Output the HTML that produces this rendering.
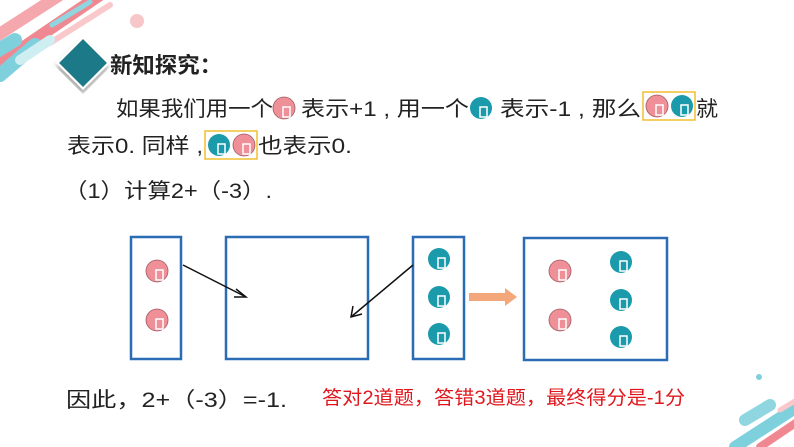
<!DOCTYPE html>
<html><head><meta charset="utf-8"><style>
html,body{margin:0;padding:0;background:#fff;}
svg{display:block;font-family:"Liberation Sans","Noto Sans CJK SC",sans-serif;}
</style></head><body>
<svg width="794" height="447" viewBox="0 0 794 447" xmlns="http://www.w3.org/2000/svg">
<defs>
<symbol id="p" viewBox="-12 -12 24 24"><circle r="11" fill="#ef8f98" stroke="#a05a60" stroke-width="0.8"/><rect x="-1" y="-1" width="7" height="10" fill="none" stroke="#fff" stroke-width="1.5"/></symbol>
<symbol id="t" viewBox="-12 -12 24 24"><circle r="11" fill="#1a9aaa"/><rect x="-1" y="-1" width="7" height="10" fill="none" stroke="#fff" stroke-width="1.5"/></symbol>
<filter id="sh"><feDropShadow dx="3" dy="4" stdDeviation="3" flood-opacity="0.35"/></filter>
</defs>
<g stroke-linecap="round">
<line x1="-10" y1="40" x2="60" y2="-5" stroke="#f4a7ad" stroke-width="12"/>
<line x1="-10" y1="70" x2="100" y2="-5" stroke="#f08892" stroke-width="12"/>
<line x1="-10" y1="55" x2="15" y2="40" stroke="#7fd0dd" stroke-width="14"/>
<line x1="0" y1="75" x2="35" y2="45" stroke="#7fd0dd" stroke-width="14"/>
<line x1="52" y1="25" x2="90" y2="2" stroke="#8fd6e0" stroke-width="5"/>
<line x1="50" y1="43" x2="110" y2="5" stroke="#f8c8cb" stroke-width="6"/>
<line x1="20" y1="60" x2="50" y2="40" stroke="#cfeef2" stroke-width="10"/>
</g>
<circle cx="137" cy="21" r="7" fill="#f6c6c8"/>
<g stroke-linecap="round">
<line x1="745" y1="420" x2="770" y2="405" stroke="#8fd6e0" stroke-width="12"/>
<line x1="735" y1="447" x2="800" y2="405" stroke="#7fd0dd" stroke-width="12"/>
<line x1="760" y1="447" x2="800" y2="420" stroke="#f08892" stroke-width="8"/>
<line x1="780" y1="410" x2="800" y2="398" stroke="#f8c8cb" stroke-width="5"/>
</g>
<circle cx="759" cy="377" r="3" fill="#7fd0dd"/>
<rect x="65" y="45" width="36" height="36" fill="#1e7a88" stroke="#fff" stroke-width="2" transform="rotate(45 83 63)" filter="url(#sh)"/>
<text x="110" y="73" font-size="22" font-weight="bold" fill="#222" textLength="112" lengthAdjust="spacingAndGlyphs">新知探究：</text>
<g font-size="21" fill="#222">
<text x="116" y="116" textLength="157" lengthAdjust="spacingAndGlyphs">如果我们用一个</text>
<use href="#p" x="272" y="96" width="24" height="24"/>
<text x="301" y="116" textLength="168" lengthAdjust="spacingAndGlyphs">表示+1 , 用一个</text>
<use href="#t" x="469" y="96" width="24" height="24"/>
<text x="500" y="116" textLength="141" lengthAdjust="spacingAndGlyphs">表示-1 , 那么</text>
<text x="696" y="116" textLength="22" lengthAdjust="spacingAndGlyphs">就</text>
<text x="67" y="153" textLength="136" lengthAdjust="spacingAndGlyphs">表示0. 同样 ,</text>
<text x="258" y="153" textLength="94" lengthAdjust="spacingAndGlyphs">也表示0.</text>
<text x="64" y="198" textLength="208" lengthAdjust="spacingAndGlyphs">（1）计算2+（-3）.</text>
<text x="66" y="407" textLength="221" lengthAdjust="spacingAndGlyphs">因此，2+（-3）=-1.</text>
</g>
<rect x="643" y="92" width="52" height="28" fill="none" stroke="#f0c030" stroke-width="1.5"/>
<use href="#p" x="645" y="94" width="24" height="24"/>
<use href="#t" x="670" y="94" width="24" height="24"/>
<rect x="205" y="131" width="52" height="28" fill="none" stroke="#f0c030" stroke-width="1.5"/>
<use href="#t" x="207" y="133" width="24" height="24"/>
<use href="#p" x="232" y="133" width="24" height="24"/>
<g fill="none" stroke="#2a6db5" stroke-width="2.5">
<rect x="131" y="237" width="50" height="122"/>
<rect x="226" y="237" width="142" height="122"/>
<rect x="413" y="237" width="51" height="122"/>
<rect x="524" y="238" width="143" height="122"/>
</g>
<use href="#p" x="145" y="259" width="24" height="24"/>
<use href="#p" x="145" y="308" width="24" height="24"/>
<use href="#t" x="427" y="247" width="24" height="24"/>
<use href="#t" x="427" y="285" width="24" height="24"/>
<use href="#t" x="427" y="322" width="24" height="24"/>
<use href="#p" x="548" y="259" width="24" height="24"/>
<use href="#p" x="548" y="308" width="24" height="24"/>
<use href="#t" x="609" y="250" width="24" height="24"/>
<use href="#t" x="609" y="288" width="24" height="24"/>
<use href="#t" x="609" y="325" width="24" height="24"/>
<g stroke="#111" stroke-width="1.5" fill="none">
<line x1="183" y1="265" x2="246" y2="297"/>
<polyline points="236,289 246,297 234,297"/>
<line x1="413" y1="265" x2="351" y2="317"/>
<polyline points="353,306 351,317 362,314"/>
</g>
<polygon points="469,293 505,293 505,288 517,297 505,306 505,301 469,301" fill="#f4a77a"/>
<text x="322" y="404" font-size="19" fill="#e0181e" textLength="363" lengthAdjust="spacingAndGlyphs">答对2道题，答错3道题，最终得分是-1分</text>
</svg>
</body></html>
